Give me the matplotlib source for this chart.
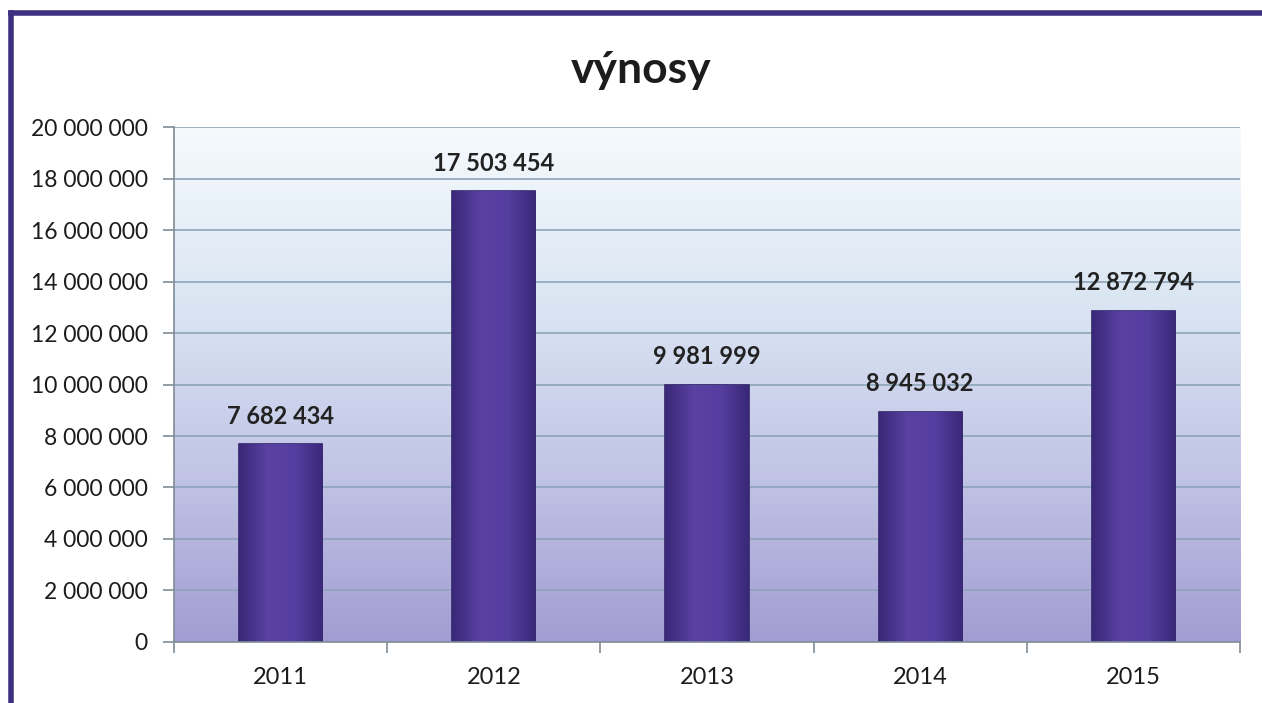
import numpy as np
import matplotlib.pyplot as plt
from matplotlib.colors import LinearSegmentedColormap
from matplotlib.lines import Line2D

years = ["2011", "2012", "2013", "2014", "2015"]
values = [7682434, 17503454, 9981999, 8945032, 12872794]
y_ticks = [0, 2000000, 4000000, 6000000, 8000000, 10000000,
           12000000, 14000000, 16000000, 18000000, 20000000]

plt.rcParams['font.family'] = ['Lato', 'DejaVu Sans']


def fmt(v):
    return f"{v:,}".replace(",", " ")


fig = plt.figure(figsize=(12.62, 7.03), dpi=100)
ax = fig.add_axes([0.1379, 0.0868, 0.9826 - 0.1379, 0.8193 - 0.0868])

x = np.arange(len(years))
ax.set_xlim(-0.5, len(years) - 0.5)
ax.set_ylim(0, 20000000)

# background gradient of the plot area
bg = LinearSegmentedColormap.from_list("bg", ["#a29dd2", "#c2c5e6", "#dbe6f3", "#f5fafd"])
grad = np.linspace(0, 1, 256).reshape(-1, 1)
ax.imshow(grad, cmap=bg, aspect="auto", origin="lower",
          extent=(-0.5, len(years) - 0.5, 0, 20000000), zorder=0)

for t in y_ticks[1:]:
    ax.axhline(t, color="#8ea4b8", lw=1.2, zorder=1)

bars = ax.bar(x, values, width=0.39, color="#553b9c", edgecolor="#2f2468",
              linewidth=1.2, zorder=2)

# horizontal shading inside bars
barcm = LinearSegmentedColormap.from_list("bar", ["#3a2878", "#5a41a2", "#563ea0", "#3a2878"])
hgrad = np.linspace(0, 1, 64).reshape(1, -1)
for b in bars:
    im = ax.imshow(hgrad, cmap=barcm, aspect="auto",
                   extent=(b.get_x(), b.get_x() + b.get_width(), 0, b.get_height()),
                   zorder=2.5)
    im.set_clip_path(b)

for xi, v in zip(x, values):
    ax.annotate(fmt(v), (xi, v), xytext=(0, 12), textcoords="offset points",
                ha="center", va="bottom", fontsize=17, fontweight="bold",
                color="#222222", zorder=4)

ax.set_xticks(x)
ax.set_xticklabels(years, fontsize=17, color="#1c1c1c")
ax.set_xticks(np.arange(-0.5, len(years)), minor=True)
ax.tick_params(axis="x", which="major", length=0, pad=18)
ax.tick_params(axis="x", which="minor", length=8, color="#7f8c96", width=1.2)

ax.set_yticks(y_ticks)
ax.set_yticklabels([fmt(t) for t in y_ticks], fontsize=16.5, color="#1c1c1c")
ax.tick_params(axis="y", length=8, color="#7f8c96", width=1.2, pad=11)

for side in ["top", "right"]:
    ax.spines[side].set_visible(False)
ax.spines["left"].set_color("#7f8c96")
ax.spines["bottom"].set_color("#7f8c96")
ax.spines["left"].set_linewidth(1.2)
ax.spines["bottom"].set_linewidth(1.2)

fig.text(0.508, 0.9, "výnosy", ha="center", va="center",
         fontsize=32, fontweight="bold", color="#1c1c1c")

# purple frame around the chart (top and left edges visible)
fig.add_artist(Line2D([0.009, 1.0], [0.981, 0.981], color="#3f2f80", lw=4,
                      transform=fig.transFigure))
fig.add_artist(Line2D([0.009, 0.009], [0.0, 0.981], color="#3f2f80", lw=4,
                      transform=fig.transFigure))

fig.savefig("out.png", dpi=100)
